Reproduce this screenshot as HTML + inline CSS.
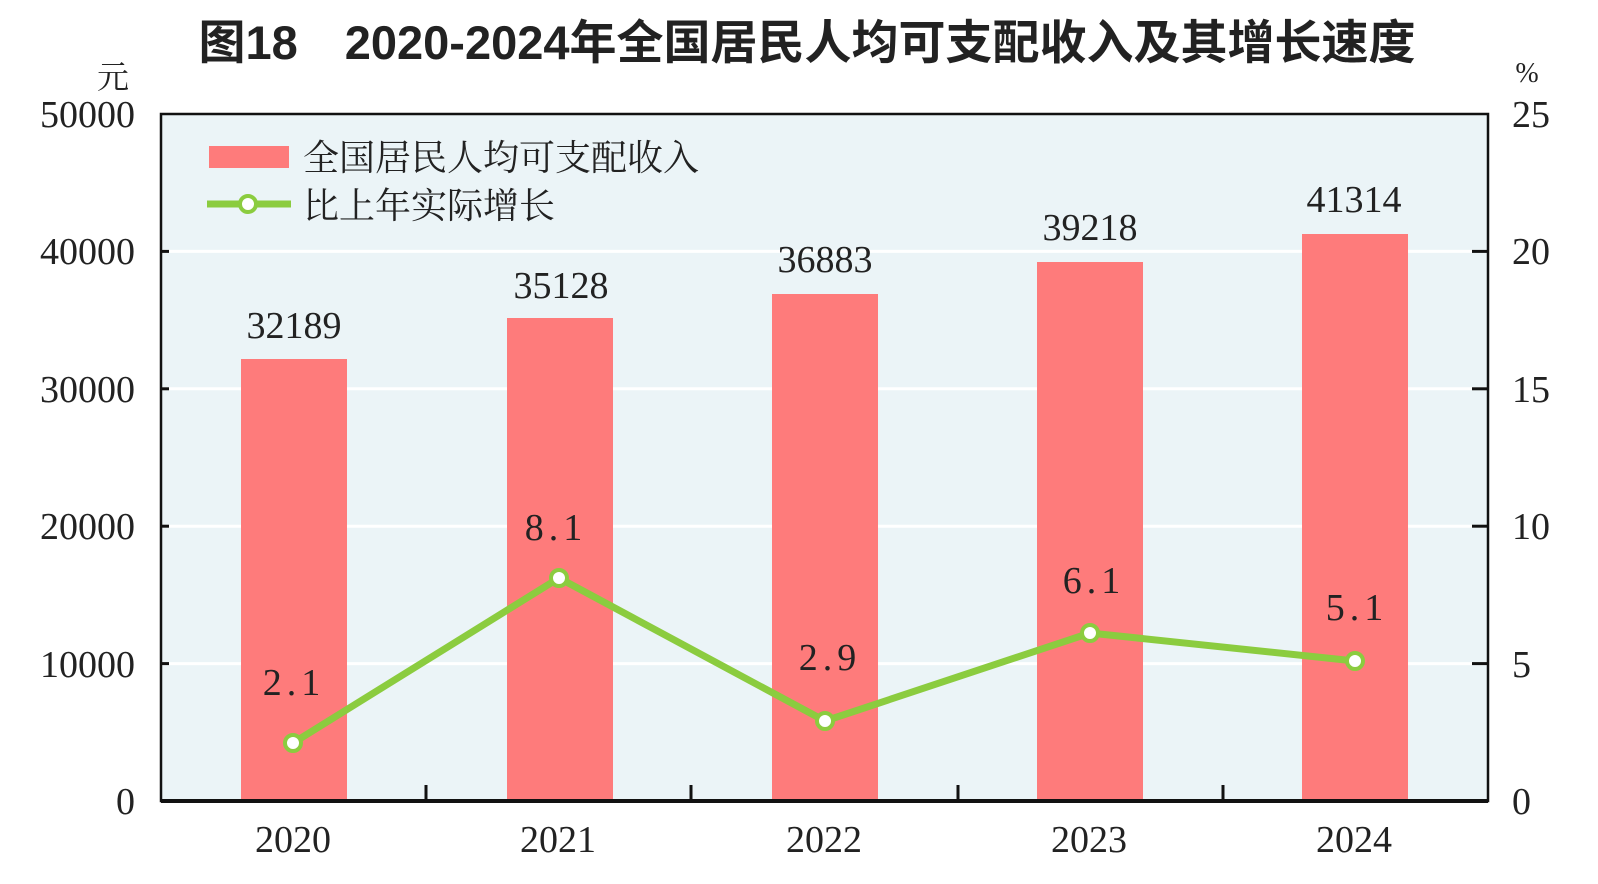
<!DOCTYPE html>
<html><head><meta charset="utf-8"><style>
html,body{margin:0;padding:0;background:#fff;}
svg{display:block}
.s{font-family:"Liberation Serif","Noto Serif CJK SC",serif;fill:#222;}
.c{font-family:"Liberation Serif","Noto Serif CJK SC","Noto Sans CJK SC",serif;fill:#222;}
</style></head><body>
<svg width="1598" height="884" xmlns="http://www.w3.org/2000/svg">
<text x="807" y="59" text-anchor="middle" font-family="Liberation Sans,'Noto Sans CJK SC',sans-serif" font-size="47" font-weight="bold" fill="#222">图18　2020-2024年全国居民人均可支配收入及其增长速度</text>
<text x="113" y="88" text-anchor="middle" class="c" font-size="32">元</text>
<text x="1527" y="82" text-anchor="middle" class="s" font-size="28">%</text>
<rect x="161" y="114" width="1327" height="687" fill="#ebf4f7"/>
<g stroke="#fff" stroke-width="3">
<line x1="161" y1="251.4" x2="1488" y2="251.4"/><line x1="161" y1="388.8" x2="1488" y2="388.8"/>
<line x1="161" y1="526.2" x2="1488" y2="526.2"/><line x1="161" y1="663.6" x2="1488" y2="663.6"/>
</g>
<g fill="#fe7b7b">
<rect x="241" y="359" width="106" height="442"/>
<rect x="507" y="318" width="106" height="483"/>
<rect x="772" y="294" width="106" height="507"/>
<rect x="1037" y="262" width="106" height="539"/>
<rect x="1302" y="234" width="106" height="567"/>
</g>
<rect x="161" y="114" width="1327" height="687" fill="none" stroke="#111" stroke-width="2.5"/>
<line x1="161" y1="801" x2="1488" y2="801" stroke="#111" stroke-width="4"/>
<g stroke="#111" stroke-width="3">
<line x1="426" y1="801" x2="426" y2="785"/><line x1="691" y1="801" x2="691" y2="785"/>
<line x1="958" y1="801" x2="958" y2="785"/><line x1="1223" y1="801" x2="1223" y2="785"/>
<line x1="1472" y1="251.4" x2="1488" y2="251.4"/><line x1="1472" y1="388.8" x2="1488" y2="388.8"/>
<line x1="1472" y1="526.2" x2="1488" y2="526.2"/><line x1="1472" y1="663.6" x2="1488" y2="663.6"/>
<line x1="161" y1="251.4" x2="169" y2="251.4"/><line x1="161" y1="388.8" x2="169" y2="388.8"/>
<line x1="161" y1="526.2" x2="169" y2="526.2"/><line x1="161" y1="663.6" x2="169" y2="663.6"/>
</g>
<g class="s" font-size="38" text-anchor="end">
<text x="135" y="127">50000</text><text x="135" y="264">40000</text><text x="135" y="402">30000</text>
<text x="135" y="539">20000</text><text x="135" y="677">10000</text><text x="135" y="814">0</text>
</g>
<g class="s" font-size="38" text-anchor="start">
<text x="1512" y="127">25</text><text x="1512" y="264">20</text><text x="1512" y="402">15</text>
<text x="1512" y="539">10</text><text x="1512" y="677">5</text><text x="1512" y="814">0</text>
</g>
<g class="s" font-size="38" text-anchor="middle">
<text x="293" y="852">2020</text><text x="558" y="852">2021</text><text x="824" y="852">2022</text>
<text x="1089" y="852">2023</text><text x="1354" y="852">2024</text>
<text x="294" y="338">32189</text><text x="561" y="298">35128</text><text x="825" y="272">36883</text>
<text x="1090" y="240">39218</text><text x="1354" y="212">41314</text>
<text x="294" y="695" letter-spacing="5">2.1</text><text x="556" y="540" letter-spacing="5">8.1</text>
<text x="830" y="670" letter-spacing="5">2.9</text><text x="1094" y="593" letter-spacing="5">6.1</text>
<text x="1357" y="620" letter-spacing="5">5.1</text>
</g>
<polyline points="293,743 559,578 825,721 1090,633 1355,661" fill="none" stroke="#8bcc3f" stroke-width="7" stroke-linejoin="round"/>
<g fill="#fff" stroke="#8bcc3f" stroke-width="4">
<circle cx="293" cy="743" r="8"/><circle cx="559" cy="578" r="8"/><circle cx="825" cy="721" r="8"/>
<circle cx="1090" cy="633" r="8"/><circle cx="1355" cy="661" r="8"/>
</g>
<rect x="209" y="146" width="80" height="22" fill="#fe7b7b"/>
<text x="303" y="170" class="c" font-size="36">全国居民人均可支配收入</text>
<line x1="207" y1="204" x2="291" y2="204" stroke="#8bcc3f" stroke-width="7"/>
<circle cx="248" cy="204" r="8" fill="#fff" stroke="#8bcc3f" stroke-width="4"/>
<text x="303" y="218" class="c" font-size="36">比上年实际增长</text>
</svg>
</body></html>
